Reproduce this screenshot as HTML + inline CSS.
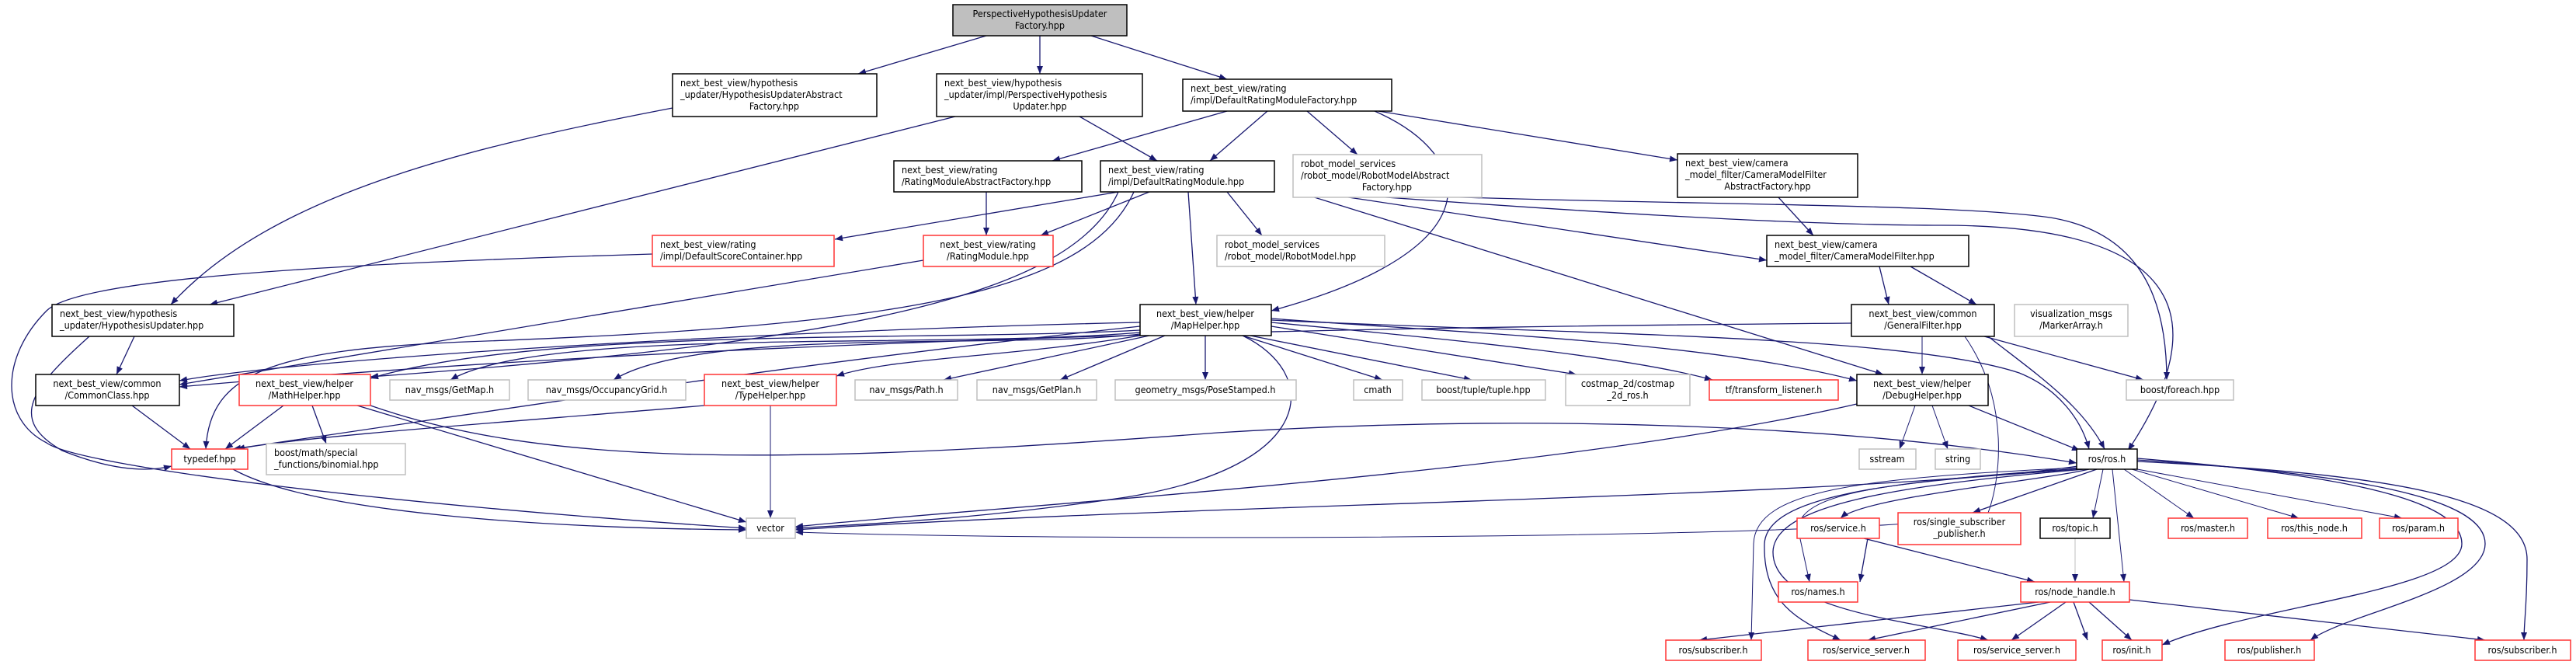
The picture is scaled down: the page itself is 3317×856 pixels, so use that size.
<!DOCTYPE html>
<html><head><meta charset="utf-8"><style>
html,body{margin:0;padding:0;background:#fff;}
svg{display:block;}
text{font-family:"DejaVu Sans Condensed","DejaVu Sans","Liberation Sans",sans-serif;font-size:12.5px;fill:#000;}
.e{fill:none;stroke:#191970;stroke-width:1.3;marker-end:url(#a);}
.t{fill:none;stroke:#191970;stroke-width:1;marker-end:url(#a);}
.g{fill:none;stroke:#bfbfbf;stroke-width:1;marker-end:url(#a);}
.b{fill:#fff;stroke:#000;stroke-width:1.5;}
.r{fill:#fff;stroke:#ff3333;stroke-width:1.5;}
.y{fill:#fff;stroke:#bfbfbf;stroke-width:1.5;}
</style></head><body>
<svg width="3317" height="856" viewBox="0 0 3317 856" xmlns="http://www.w3.org/2000/svg">
<defs><marker id="a" viewBox="0 0 10 8" refX="10" refY="4" markerWidth="11" markerHeight="8" markerUnits="userSpaceOnUse" orient="auto"><path d="M0,0 L10,4 L0,8 z" fill="#191970"/></marker></defs>

<!-- edges -->
<path class="e" d="M1270,46 L1105,95"/>
<path class="e" d="M1339,46 L1339,95"/>
<path class="e" d="M1405,46 L1580,102"/>
<path class="e" d="M866,139 C600,190 350,250 220,392"/>
<path class="e" d="M1230,150 L270,392"/>
<path class="e" d="M1390,150 L1490,207"/>
<path class="e" d="M1580,143 L1355,207"/>
<path class="e" d="M1632,143 L1558,207"/>
<path class="e" d="M1683,143 L1748,199"/>
<path class="e" d="M1775,143 L2160,206"/>
<path class="e" d="M1770,143 C1900,200 1930,320 1637,400"/>
<path class="e" d="M1270,247 L1270,303"/>
<path class="e" d="M1440,247 L1075,308"/>
<path class="e" d="M1480,247 L1340,303"/>
<path class="e" d="M1530,247 L1540,392"/>
<path class="e" d="M1580,247 L1625,303"/>
<path class="e" d="M1690,247 L2275,335"/>
<path class="e" d="M1670,247 L2425,482"/>
<path class="e" d="M1440,247 C1380,380 1100,440 477,485"/>
<path class="e" d="M1460,247 C1400,380 1150,420 600,440 C350,450 270,480 265,578"/>
<path class="e" d="M1690,247 C2000,270 2300,290 2500,290 C2800,290 2860,400 2740,580"/>
<path class="e" d="M1690,247 C2100,265 2500,260 2640,280 C2760,300 2790,390 2790,489"/>
<path class="e" d="M840,327 C400,340 100,360 60,400 C0,460 0,540 60,570 C100,600 500,650 961,680"/>
<path class="e" d="M1189,335 L231,495"/>
<path class="e" d="M173,433 L150,482"/>
<path class="e" d="M115,433 C40,500 10,540 80,580 C130,600 180,610 221,600"/>
<path class="e" d="M170,522 L245,578"/>
<path class="e" d="M365,522 L290,578"/>
<path class="e" d="M402,522 L420,571"/>
<path class="e" d="M460,522 L961,672"/>
<path class="e" d="M477,522 C700,600 1000,600 1568,557 C2000,530 2400,550 2674,596"/>
<path class="e" d="M907,522 C700,540 400,560 305,578"/>
<path class="t" d="M992,522 L992,667"/>
<path class="e" d="M300,604 C400,660 700,680 961,682"/>
<!-- MapHelper fan -->
<path class="e" d="M1468,415 C1000,425 400,460 231,490"/>
<path class="e" d="M1468,425 C1200,440 700,420 477,487"/>
<path class="e" d="M1468,428 C1200,450 700,420 580,489"/>
<path class="e" d="M1468,430 C1300,450 900,420 790,489"/>
<path class="e" d="M1468,432 C1300,460 1150,460 1077,484"/>
<path class="e" d="M1480,432 L1215,489"/>
<path class="e" d="M1500,432 L1365,489"/>
<path class="e" d="M1552,432 L1552,489"/>
<path class="e" d="M1600,432 L1780,489"/>
<path class="e" d="M1610,432 L1895,489"/>
<path class="e" d="M1637,420 L2030,482"/>
<path class="e" d="M1637,415 C1900,440 2100,460 2205,489"/>
<path class="e" d="M1637,410 C1900,430 2200,440 2391,490"/>
<path class="e" d="M1637,412 C2000,430 2450,430 2600,480 C2650,500 2680,540 2690,578"/>
<path class="e" d="M1600,432 C1700,480 1700,600 1450,640 C1250,670 1100,675 1024,680"/>
<path class="e" d="M1468,420 C1000,470 700,520 300,578"/>
<!-- right cluster -->
<path class="e" d="M2290,254 L2335,303"/>
<path class="e" d="M2420,343 L2432,392"/>
<path class="e" d="M2460,343 L2545,392"/>
<path class="e" d="M2384,416 C1900,420 1000,430 231,498"/>
<path class="t" d="M2475,433 L2475,482"/>
<path class="e" d="M2555,433 L2760,489"/>
<path class="e" d="M2560,433 C2620,480 2680,520 2710,578"/>
<path class="t" d="M2530,433 C2590,520 2575,620 2560,660 C2520,690 1500,700 1024,685"/>
<path class="t" d="M2466,522 L2446,578"/>
<path class="t" d="M2488,522 L2508,578"/>
<path class="e" d="M2535,522 L2678,580"/>
<path class="e" d="M2391,520 C2000,610 1300,650 1024,678"/>
<path class="e" d="M2676,600 C2400,640 1500,650 1024,682"/>
<path class="e" d="M2690,604 C2620,620 2400,640 2370,667"/>
<path class="e" d="M2700,604 L2540,660"/>
<path class="t" d="M2708,604 L2695,667"/>
<path class="t" d="M2720,604 L2735,749"/>
<path class="t" d="M2735,604 L2825,667"/>
<path class="t" d="M2745,604 L2960,667"/>
<path class="t" d="M2752,604 L3093,667"/>
<path class="t" d="M2680,604 C2450,620 2320,630 2315,680 L2330,749"/>
<path class="t" d="M2676,602 C2400,615 2260,630 2258,700 L2255,824"/>
<path class="e" d="M2680,603 C2420,620 2275,640 2272,700 C2270,780 2320,800 2370,824"/>
<path class="e" d="M2684,604 C2440,625 2285,650 2283,710 C2282,790 2480,800 2560,824"/>
<path class="e" d="M2752,590 C3000,610 3170,640 3170,700 C3170,760 2900,780 2784,830"/>
<path class="e" d="M2752,592 C3030,610 3200,640 3200,700 C3200,760 3020,790 2975,824"/>
<path class="e" d="M2752,594 C3080,610 3254,640 3254,720 C3254,780 3250,800 3250,824"/>
<path class="e" d="M2405,693 L2395,749"/>
<path class="e" d="M2400,693 L2620,749"/>
<path class="g" d="M2672,693 L2672,749"/>
<path class="e" d="M2625,775 L2188,824"/>
<path class="e" d="M2640,775 L2405,824"/>
<path class="e" d="M2660,775 L2590,824"/>
<path class="e" d="M2670,775 L2688,824"/>
<path class="e" d="M2690,775 L2745,824"/>
<path class="e" d="M2742,772 L3200,824"/>

<!-- nodes -->
<rect x="1227" y="6" width="224" height="40" fill="#bfbfbf" stroke="#000" stroke-width="1.5"/>
<text x="1339" y="22" text-anchor="middle">PerspectiveHypothesisUpdater</text><text x="1339" y="37" text-anchor="middle">Factory.hpp</text>

<rect class="b" x="866" y="95" width="263" height="55"/>
<text x="876" y="111">next_best_view/hypothesis</text><text x="876" y="126">_updater/HypothesisUpdaterAbstract</text><text x="997" y="141" text-anchor="middle">Factory.hpp</text>

<rect class="b" x="1206" y="95" width="265" height="55"/>
<text x="1216" y="111">next_best_view/hypothesis</text><text x="1216" y="126">_updater/impl/PerspectiveHypothesis</text><text x="1339" y="141" text-anchor="middle">Updater.hpp</text>

<rect class="b" x="1523" y="102" width="269" height="41"/>
<text x="1533" y="118">next_best_view/rating</text><text x="1533" y="133">/impl/DefaultRatingModuleFactory.hpp</text>

<rect class="b" x="1151" y="207" width="242" height="40"/>
<text x="1161" y="223">next_best_view/rating</text><text x="1161" y="238">/RatingModuleAbstractFactory.hpp</text>

<rect class="b" x="1417" y="207" width="224" height="40"/>
<text x="1427" y="223">next_best_view/rating</text><text x="1427" y="238">/impl/DefaultRatingModule.hpp</text>

<rect class="y" x="1665" y="199" width="243" height="55"/>
<text x="1675" y="215">robot_model_services</text><text x="1675" y="230">/robot_model/RobotModelAbstract</text><text x="1786" y="245" text-anchor="middle">Factory.hpp</text>

<rect class="b" x="2160" y="198" width="232" height="56"/>
<text x="2170" y="214">next_best_view/camera</text><text x="2170" y="229">_model_filter/CameraModelFilter</text><text x="2276" y="244" text-anchor="middle">AbstractFactory.hpp</text>

<rect class="r" x="840" y="303" width="234" height="40"/>
<text x="850" y="319">next_best_view/rating</text><text x="850" y="334">/impl/DefaultScoreContainer.hpp</text>

<rect class="r" x="1189" y="303" width="167" height="40"/>
<text x="1272" y="319" text-anchor="middle">next_best_view/rating</text><text x="1272" y="334" text-anchor="middle">/RatingModule.hpp</text>

<rect class="y" x="1567" y="303" width="216" height="40"/>
<text x="1577" y="319">robot_model_services</text><text x="1577" y="334">/robot_model/RobotModel.hpp</text>

<rect class="b" x="2275" y="303" width="260" height="40"/>
<text x="2285" y="319">next_best_view/camera</text><text x="2285" y="334">_model_filter/CameraModelFilter.hpp</text>

<rect class="b" x="67" y="392" width="234" height="41"/>
<text x="77" y="408">next_best_view/hypothesis</text><text x="77" y="423">_updater/HypothesisUpdater.hpp</text>

<rect class="b" x="1468" y="392" width="169" height="40"/>
<text x="1552" y="408" text-anchor="middle">next_best_view/helper</text><text x="1552" y="423" text-anchor="middle">/MapHelper.hpp</text>

<rect class="b" x="2384" y="392" width="184" height="41"/>
<text x="2476" y="408" text-anchor="middle">next_best_view/common</text><text x="2476" y="423" text-anchor="middle">/GeneralFilter.hpp</text>

<rect class="y" x="2594" y="392" width="146" height="41"/>
<text x="2667" y="408" text-anchor="middle">visualization_msgs</text><text x="2667" y="423" text-anchor="middle">/MarkerArray.h</text>

<rect class="b" x="46" y="482" width="185" height="40"/>
<text x="138" y="498" text-anchor="middle">next_best_view/common</text><text x="138" y="513" text-anchor="middle">/CommonClass.hpp</text>

<rect class="r" x="308" y="482" width="169" height="40"/>
<text x="392" y="498" text-anchor="middle">next_best_view/helper</text><text x="392" y="513" text-anchor="middle">/MathHelper.hpp</text>

<rect class="y" x="502" y="489" width="154" height="26"/><text x="579" y="506" text-anchor="middle">nav_msgs/GetMap.h</text>
<rect class="y" x="680" y="489" width="203" height="26"/><text x="781" y="506" text-anchor="middle">nav_msgs/OccupancyGrid.h</text>

<rect class="r" x="907" y="482" width="170" height="40"/>
<text x="992" y="498" text-anchor="middle">next_best_view/helper</text><text x="992" y="513" text-anchor="middle">/TypeHelper.hpp</text>

<rect class="y" x="1101" y="489" width="132" height="26"/><text x="1167" y="506" text-anchor="middle">nav_msgs/Path.h</text>
<rect class="y" x="1258" y="489" width="154" height="26"/><text x="1335" y="506" text-anchor="middle">nav_msgs/GetPlan.h</text>
<rect class="y" x="1436" y="489" width="233" height="26"/><text x="1552" y="506" text-anchor="middle">geometry_msgs/PoseStamped.h</text>
<rect class="y" x="1743" y="489" width="63" height="26"/><text x="1774" y="506" text-anchor="middle">cmath</text>
<rect class="y" x="1831" y="489" width="159" height="26"/><text x="1910" y="506" text-anchor="middle">boost/tuple/tuple.hpp</text>

<rect class="y" x="2016" y="482" width="160" height="40"/>
<text x="2096" y="498" text-anchor="middle">costmap_2d/costmap</text><text x="2096" y="513" text-anchor="middle">_2d_ros.h</text>

<rect class="r" x="2201" y="489" width="166" height="26"/><text x="2284" y="506" text-anchor="middle">tf/transform_listener.h</text>

<rect class="b" x="2391" y="482" width="169" height="40"/>
<text x="2475" y="498" text-anchor="middle">next_best_view/helper</text><text x="2475" y="513" text-anchor="middle">/DebugHelper.hpp</text>

<rect class="y" x="2738" y="489" width="138" height="26"/><text x="2807" y="506" text-anchor="middle">boost/foreach.hpp</text>

<rect class="r" x="221" y="578" width="98" height="26"/><text x="270" y="595" text-anchor="middle">typedef.hpp</text>

<rect class="y" x="343" y="571" width="179" height="40"/>
<text x="353" y="587">boost/math/special</text><text x="353" y="602">_functions/binomial.hpp</text>

<rect class="y" x="2394" y="578" width="73" height="26"/><text x="2430" y="595" text-anchor="middle">sstream</text>
<rect class="y" x="2492" y="578" width="58" height="26"/><text x="2521" y="595" text-anchor="middle">string</text>
<rect class="b" x="2674" y="578" width="78" height="26"/><text x="2713" y="595" text-anchor="middle">ros/ros.h</text>

<rect class="y" x="961" y="667" width="63" height="26"/><text x="992" y="684" text-anchor="middle">vector</text>
<rect class="r" x="2314" y="667" width="106" height="26"/><text x="2367" y="684" text-anchor="middle">ros/service.h</text>
<rect class="r" x="2444" y="660" width="158" height="41"/>
<text x="2523" y="676" text-anchor="middle">ros/single_subscriber</text><text x="2523" y="691" text-anchor="middle">_publisher.h</text>
<rect class="b" x="2627" y="667" width="90" height="26"/><text x="2672" y="684" text-anchor="middle">ros/topic.h</text>
<rect class="r" x="2792" y="667" width="102" height="26"/><text x="2843" y="684" text-anchor="middle">ros/master.h</text>
<rect class="r" x="2920" y="667" width="121" height="26"/><text x="2980" y="684" text-anchor="middle">ros/this_node.h</text>
<rect class="r" x="3064" y="667" width="101" height="26"/><text x="3114" y="684" text-anchor="middle">ros/param.h</text>

<rect class="r" x="2290" y="749" width="102" height="26"/><text x="2341" y="766" text-anchor="middle">ros/names.h</text>
<rect class="r" x="2602" y="749" width="140" height="26"/><text x="2672" y="766" text-anchor="middle">ros/node_handle.h</text>

<rect class="r" x="2145" y="824" width="123" height="26"/><text x="2206" y="841" text-anchor="middle">ros/subscriber.h</text>
<rect class="r" x="2328" y="824" width="151" height="26"/><text x="2403" y="841" text-anchor="middle">ros/service_server.h</text>
<rect class="r" x="2521" y="824" width="152" height="26"/><text x="2597" y="841" text-anchor="middle">ros/service_server.h</text>
<rect class="r" x="2707" y="824" width="77" height="26"/><text x="2745" y="841" text-anchor="middle">ros/init.h</text>
<rect class="r" x="2865" y="824" width="115" height="26"/><text x="2922" y="841" text-anchor="middle">ros/publisher.h</text>
<rect class="r" x="3187" y="824" width="123" height="26"/><text x="3248" y="841" text-anchor="middle">ros/subscriber.h</text>
</svg>
</body></html>
